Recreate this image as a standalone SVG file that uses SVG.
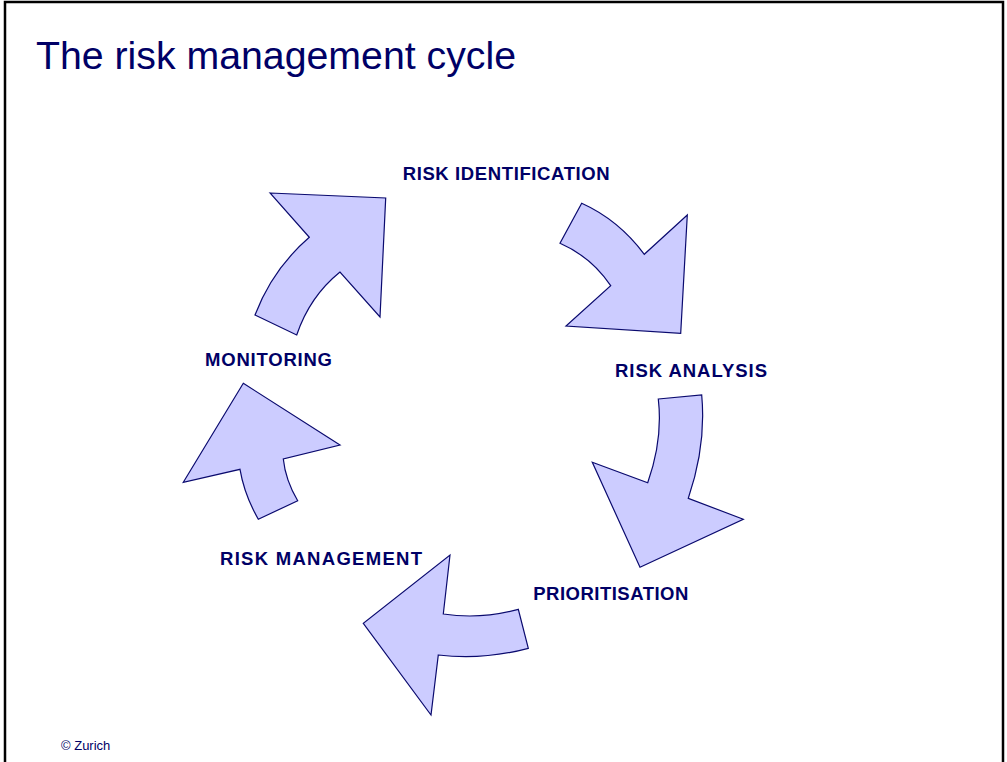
<svg xmlns="http://www.w3.org/2000/svg" width="1007" height="762" viewBox="0 0 1007 762">
<style>
.arrow{fill:#CCCCFF;stroke:#0A0A6E;stroke-width:1.2;stroke-linejoin:miter}
.lbl{font-family:"Liberation Sans",Arial,sans-serif;font-weight:bold;font-size:18.5px;fill:#000066}
.title{font-family:"Liberation Sans",Arial,sans-serif;font-size:38px;fill:#000066}
.foot{font-family:"Liberation Sans",Arial,sans-serif;font-size:13px;fill:#000066}
</style>
<rect x="0" y="0" width="1007" height="762" fill="#ffffff"/>
<rect x="5" y="2" width="998" height="800" fill="none" stroke="#000000" stroke-width="2.5"/>
<text class="title" x="36" y="69" textLength="480" lengthAdjust="spacingAndGlyphs">The risk management cycle</text>
<g id="connectors">
<path id="arrow-identification" class="arrow" d="M270,193 L385.7,198 L380,317 L340,272 Q309.7,296.5 296.7,335 L255,315 Q272.4,269.2 309.3,237.3 Z"/>
<path id="arrow-analysis" class="arrow" d="M581.7,203.3 Q618.4,219.8 644.3,254.3 L687.3,215 L680.7,333.3 L566,326 L610.7,285.7 Q591.3,256.9 560,243.3 Z"/>
<path id="arrow-prioritisation" class="arrow" d="M658.3,399 L701.7,395 Q706.4,445.3 688.3,498.3 L743.3,519.3 L640,567.3 L592.3,462.3 L647.7,482.7 Q663,439.9 658.3,399 Z"/>
<path id="arrow-management" class="arrow" d="M450,555 L443.3,614 Q480.6,619.7 518.3,609.3 L528.3,648.3 Q483.3,660.3 438.3,655 L431,715 L363.3,623.3 Z"/>
<path id="arrow-monitoring" class="arrow" d="M243.3,383.3 L340,445 L283.3,459 Q285.5,480.2 297.7,500.7 L258.3,519.3 Q244.2,494.3 240,469.3 L183.3,482.3 Z"/>
</g>
<g id="node-identification"><text class="lbl" x="402.7" y="180" textLength="207" lengthAdjust="spacing">RISK IDENTIFICATION</text></g>
<g id="node-analysis"><text class="lbl" x="615" y="376.7" textLength="152" lengthAdjust="spacing">RISK ANALYSIS</text></g>
<g id="node-prioritisation"><text class="lbl" x="533.3" y="600.3" textLength="155" lengthAdjust="spacing">PRIORITISATION</text></g>
<g id="node-management"><text class="lbl" x="220" y="565" textLength="202" lengthAdjust="spacing">RISK MANAGEMENT</text></g>
<g id="node-monitoring"><text class="lbl" x="205" y="366" textLength="127" lengthAdjust="spacing">MONITORING</text></g>
<text class="foot" x="61" y="750">© Zurich</text>
</svg>
